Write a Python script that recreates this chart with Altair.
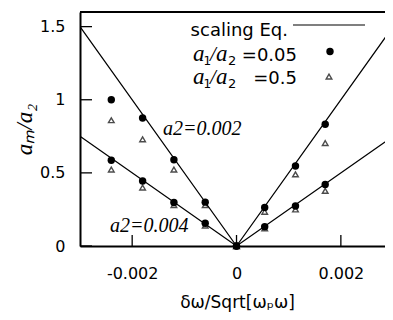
import altair as alt
import pandas as pd

# ---- data ----
x_pts = [-0.0024, -0.0018, -0.0012, -0.0006, 0.0, 0.00054, 0.00113, 0.0017]
dots_a2_002 = [1.0, 0.875, 0.59, 0.30, 0.0, 0.264, 0.547, 0.832]
tris_a2_002 = [0.86, 0.73, 0.523, 0.28, 0.0, 0.234, 0.49, 0.704]
dots_a2_004 = [0.586, 0.445, 0.298, 0.155, 0.0, 0.132, 0.273, 0.42]
tris_a2_004 = [0.523, 0.40, 0.28, 0.14, 0.0, 0.12, 0.25, 0.377]

line_x = [-0.003, 0.0, 0.003]
line_a2_002 = [1.5, 0.0, 1.5]
line_a2_004 = [0.75, 0.0, 0.75]

x_ticks = [-0.002, 0.0, 0.002]
y_ticks = [0.0, 0.5, 1.0, 1.5]
x_domain = [-0.003, 0.002846]   # right edge of the reference is cut by the picture border
y_domain = [0, 1.6]

W, H = 305, 234

dots = pd.DataFrame({
    "x": x_pts * 2,
    "y": dots_a2_002 + dots_a2_004,
    "a2": ["0.002"] * len(x_pts) + ["0.004"] * len(x_pts),
})
tris = pd.DataFrame({
    "x": x_pts * 2,
    "y": tris_a2_002 + tris_a2_004,
    "a2": ["0.002"] * len(x_pts) + ["0.004"] * len(x_pts),
})
lines = pd.DataFrame({
    "x": line_x * 2,
    "y": line_a2_002 + line_a2_004,
    "a2": ["0.002"] * 3 + ["0.004"] * 3,
})

xs = alt.Scale(domain=x_domain, nice=False, zero=False)
ys = alt.Scale(domain=y_domain, nice=False)

x_axis = alt.Axis(
    values=x_ticks, format="~g", labelExpr="replace(datum.label, '\u2212', '-')",
    ticks=False, grid=False, domainColor="black", domainWidth=2,
    labelFont="DejaVu Sans", labelFontSize=16, labelColor="black", labelPadding=19,
    title="δω/Sqrt[ωₚω]", titleFont="DejaVu Sans", titleFontSize=17,
    titleFontWeight="normal", titleColor="black", titlePadding=13,
    titleX=157,
)
y_axis = alt.Axis(
    values=y_ticks, format="~g",
    ticks=False, grid=False, domainColor="black", domainWidth=2,
    labelFont="DejaVu Sans", labelFontSize=16, labelColor="black", labelPadding=15,
    title="aₘ/a₂", titleFont="Liberation Serif", titleFontStyle="italic",
    titleFontSize=23, titleFontWeight="normal", titleColor="black", titlePadding=3,
)

line_layer = alt.Chart(lines).mark_line(color="black", strokeWidth=1.2, clip=True).encode(
    x=alt.X("x:Q", scale=xs, axis=x_axis),
    y=alt.Y("y:Q", scale=ys, axis=y_axis),
    detail="a2:N",
)

tri_layer = alt.Chart(tris).mark_point(
    shape="triangle-up", filled=False, color="black", strokeWidth=1.4, size=32
).encode(x=alt.X("x:Q", scale=xs), y=alt.Y("y:Q", scale=ys))

dot_layer = alt.Chart(dots).mark_circle(color="black", opacity=1, size=55).encode(
    x=alt.X("x:Q", scale=xs), y=alt.Y("y:Q", scale=ys)
)

xtick_layer = alt.Chart(pd.DataFrame({"x": x_ticks})).mark_rule(
    color="black", strokeWidth=1.3
).encode(x=alt.X("x:Q", scale=xs), y=alt.value(H), y2=alt.value(H - 11))

ytick_layer = alt.Chart(pd.DataFrame({"y": y_ticks})).mark_rule(
    color="black", strokeWidth=1.3
).encode(y=alt.Y("y:Q", scale=ys), x=alt.value(0), x2=alt.value(12))

one = pd.DataFrame({"k": [0]})
top_border = alt.Chart(one).mark_rule(color="black", strokeWidth=2).encode(
    x=alt.value(0), x2=alt.value(W), y=alt.value(0)
)

def txt(s, x, y, font="DejaVu Sans", size=18, style="normal", align="left"):
    return alt.Chart(one).mark_text(
        text=s, font=font, fontSize=size, fontStyle=style, align=align,
        baseline="alphabetic", color="black",
    ).encode(x=alt.value(x), y=alt.value(y))

def ratio_label(y):
    serif = "Liberation Serif"
    return [
        txt("a", 113, y, font=serif, size=23, style="italic"),
        txt("1", 123.5, y + 4, size=12),
        txt("/", 130, y, font=serif, size=21, style="italic"),
        txt("a", 136, y, font=serif, size=23, style="italic"),
        txt("2", 148, y + 4, size=13),
    ]

legend_line = alt.Chart(one).mark_rule(color="black", strokeWidth=1.2).encode(
    x=alt.value(213), x2=alt.value(285), y=alt.value(13)
)
legend_dot = alt.Chart(one).mark_circle(color="black", opacity=1, size=55).encode(
    x=alt.value(250), y=alt.value(39.5)
)
legend_tri = alt.Chart(one).mark_point(
    shape="triangle-up", filled=False, color="black", strokeWidth=1.4, size=32
).encode(x=alt.value(249), y=alt.value(64.5))

texts = [
    txt("scaling Eq.", 208, 24, align="right"),
    *ratio_label(49),
    txt("=0.05", 217, 49, align="right"),
    *ratio_label(72),
    txt("=0.5", 217, 72, align="right"),
    txt("a2=0.002", 83, 123, font="Liberation Serif", size=20, style="italic"),
    txt("a2=0.004", 30, 220, font="Liberation Serif", size=20, style="italic"),
]

chart = alt.layer(
    line_layer, tri_layer, dot_layer, xtick_layer, ytick_layer, top_border,
    legend_line, legend_dot, legend_tri, *texts,
).properties(
    width=W, height=H,
    autosize=alt.AutoSizeParams(type="none"),
    padding={"left": 72, "top": 4, "right": 0, "bottom": 66},
).configure_view(stroke=None).configure(background="white")

chart.save("out.html", embed_options={"renderer": "svg", "actions": False})
